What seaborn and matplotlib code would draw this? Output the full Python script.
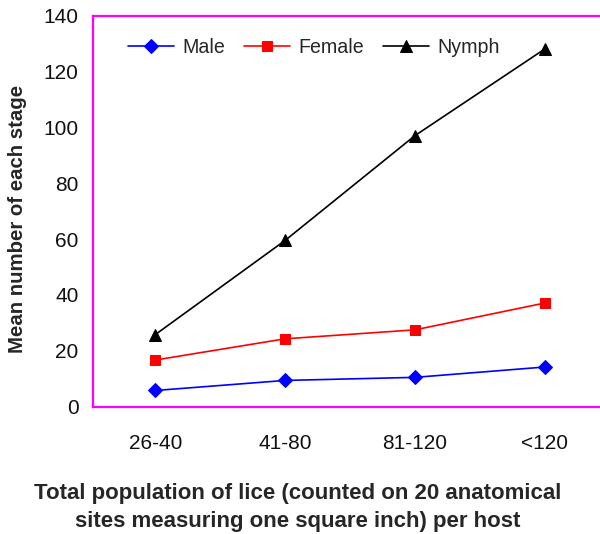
import matplotlib
matplotlib.use("Agg")
import matplotlib.pyplot as plt
import seaborn as sns
import pandas as pd

categories = ["26-40", "41-80", "81-120", "<120"]
male = [5.8, 9.4, 10.5, 14.2]
female = [16.7, 24.3, 27.5, 37.1]
nymph = [25.8, 59.5, 97.0, 128.0]

sns.set_style("white")
plt.rcParams['font.family'] = ['Liberation Sans', 'DejaVu Sans']

fig = plt.figure(figsize=(6.0, 5.34), dpi=100)
W, H = 600, 534
left, right, top, bottom = 93, 607, 15.5, 406.7
ax = fig.add_axes([left / W, 1 - bottom / H, (right - left) / W, (bottom - top) / H])

series = [("Male", male, "#0000FF", "D", 7),
          ("Female", female, "#FF0000", "s", 7.5),
          ("Nymph", nymph, "#000000", "^", 8)]
for name, vals, color, mk, ms in series:
    df = pd.DataFrame({"cat": categories, "val": vals})
    sns.lineplot(data=df, x="cat", y="val", ax=ax, color=color, marker=mk,
                 markersize=ms, markeredgecolor=color, linewidth=1.2,
                 label=name, sort=False)

ax.set_ylim(0, 140)
ax.set_yticks(range(0, 141, 20))
ax.set_xlim(-0.48, 3.48)
ax.set_xlabel("")
ax.set_ylabel("")
for s in ax.spines.values():
    s.set_color("#FF00FF")
    s.set_linewidth(1.6)
    s.set_visible(True)
ax.tick_params(axis="y", length=0, pad=10.5, labelsize=15, labelcolor="#111111")
ax.tick_params(axis="x", length=0, pad=19.5, labelsize=15, labelcolor="#111111")

ax.legend(loc="center left", bbox_to_anchor=(0.053, 0.919), ncol=3, frameon=False,
          fontsize=14.1, handlelength=2.35, handletextpad=0.4, columnspacing=1.0,
          borderaxespad=0)

fig.text(18 / W, 1 - 219 / H, "Mean number of each stage", rotation=90,
         ha="center", va="center", fontsize=14.7, fontweight="bold")
fig.text(298 / W, 1 - 507.5 / H,
         "Total population of lice (counted on 20 anatomical\nsites measuring one square inch) per host",
         ha="center", va="center", fontsize=16, fontweight="bold", linespacing=1.4)

fig.savefig("out.png", dpi=100)
